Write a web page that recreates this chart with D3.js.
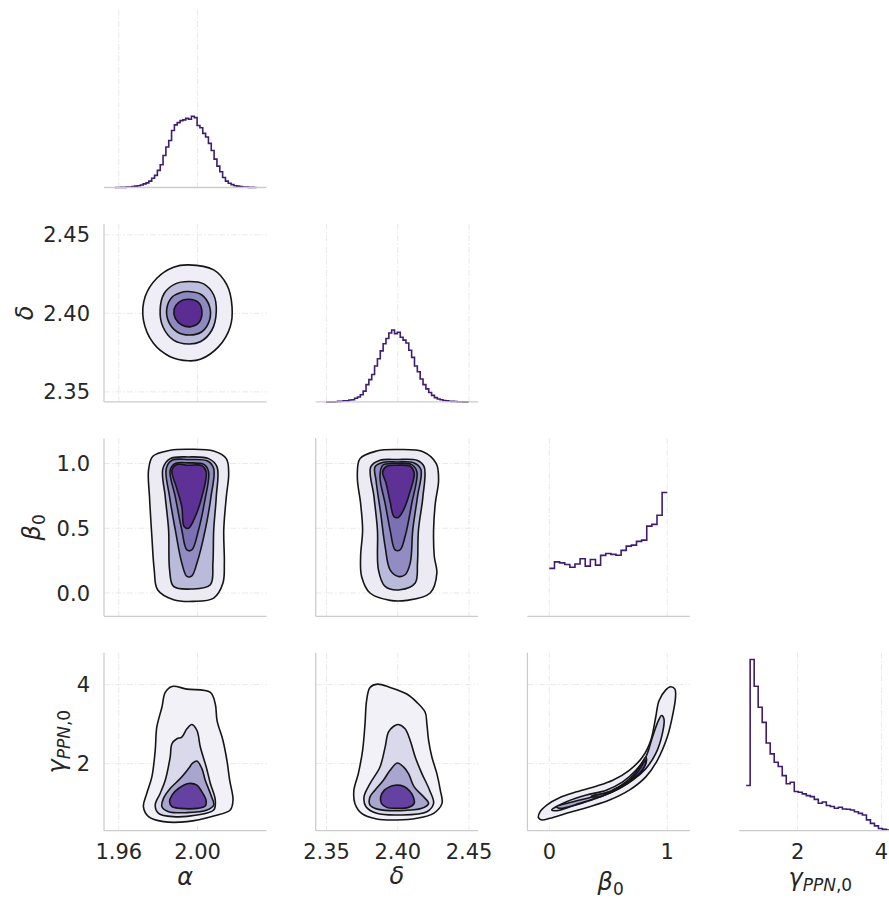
<!DOCTYPE html>
<html>
<head>
<meta charset="utf-8">
<script src="https://cdn.jsdelivr.net/npm/d3@7"></script>
<style>
    body { margin: 0; background: #fff; }
    text { font-family: "DejaVu Sans", sans-serif; fill: #262626; }
    .tick-label { font-size: 21px; }
    .axis-label { font-size: 24px; font-style: italic; }
</style>
</head>
<body>
<svg id="corner" width="889" height="898"></svg>
<script>

/*********************/
/*** DATA          ***/
/*********************/

// histogram counts on the diagonal (range = [first edge, last edge])
var alphaHistRange  = [1.958, 2.030];
var alphaHistCounts = [0, 0, 1, 1, 2, 3, 5, 8, 10, 15, 21, 27, 37, 54, 71, 100, 133, 187, 237, 275,
                       333, 366, 379, 391, 395, 404, 399, 416, 408, 362, 349, 316, 295, 258, 216, 166, 125, 92, 58, 37,
                       25, 17, 10, 8, 5, 3, 2, 1, 1, 0];

var deltaHistRange  = [2.3497, 2.4497];
var deltaHistCounts = [0, 0, 0, 1, 3, 4, 6, 6, 11, 13, 21, 29, 42, 63, 101, 130, 160, 210, 252, 298,
                       340, 370, 403, 420, 399, 407, 378, 361, 344, 302, 260, 210, 176, 134, 101, 76, 55, 38, 25, 17,
                       13, 8, 6, 4, 3, 2, 1, 1, 0, 0];

var betaHistRange  = [0, 1];
var betaHistCounts = [280, 318, 312, 303, 287, 306, 336, 293, 332, 299, 356, 367, 362, 357, 385, 410,
                      416, 438, 445, 527, 537, 590, 723];

var gammaHistRange  = [0.773, 4.215];
var gammaHistCounts = [264, 1000, 844, 721, 633, 512, 449, 400, 375, 322, 274, 283, 229, 225, 215, 205,
                       199, 183, 160, 168, 147, 141, 131, 137, 127, 125, 121, 111, 101, 92, 63, 43, 28, 13, 8, 4];

// KDE contour outlines, outermost level first, as [x, y] in data units
var alphaDeltaLevels = [
    [[1.9954,2.4309],[2.0082,2.4277],[2.0149,2.4181],[2.0175,2.4043],[2.0166,2.3915],[2.0107,2.3788],[2.0014,2.3707],
     [1.9954,2.3698],[1.9861,2.3724],[1.9776,2.3809],[1.9725,2.3958],[1.9734,2.4107],[1.9793,2.4224],[1.9878,2.4294]],
    [[1.9954,2.4203],[2.0031,2.4188],[2.0082,2.4117],[2.0095,2.4011],[2.0073,2.3894],[2.0014,2.3819],[1.9954,2.3805],
     [1.9878,2.3830],[1.9824,2.3915],[1.9810,2.4022],[1.9831,2.4128],[1.9887,2.4188]],
    [[1.9954,2.4139],[2.0022,2.4117],[2.0061,2.4043],[2.0061,2.3958],[2.0022,2.3883],[1.9959,2.3862],[1.9895,2.3883],
     [1.9853,2.3947],[1.9844,2.4032],[1.9870,2.4103],[1.9912,2.4132]],
    [[1.9954,2.4090],[2.0005,2.4069],[2.0022,2.4011],[2.0010,2.3947],[1.9966,2.3915],[1.9920,2.3926],[1.9887,2.3968],
     [1.9881,2.4026],[1.9903,2.4069]]
];

var alphaBetaLevels = [
    [[1.9954,1.110],[2.0082,1.097],[2.0146,1.038],[2.0158,0.923],[2.0146,0.743],[2.0133,0.487],[2.0136,0.231],
     [2.0129,0.077],[2.0082,-0.039],[1.9980,-0.065],[1.9878,-0.052],[1.9797,0.025],[1.9780,0.179],[1.9768,0.436],
     [1.9756,0.743],[1.9751,0.948],[1.9773,1.056],[1.9861,1.102]],
    [[1.9954,1.051],[2.0056,1.038],[2.0099,0.974],[2.0095,0.743],[2.0082,0.487],[2.0078,0.231],[2.0065,0.064],
     [1.9971,0.031],[1.9878,0.051],[1.9858,0.179],[1.9853,0.487],[1.9836,0.743],[1.9824,0.961],[1.9861,1.038]],
    [[1.9954,1.031],[2.0051,1.020],[2.0082,0.961],[2.0068,0.743],[2.0039,0.487],[1.9997,0.231],[1.9971,0.133],
     [1.9946,0.128],[1.9920,0.231],[1.9887,0.487],[1.9858,0.743],[1.9841,0.961],[1.9870,1.025]],
    [[1.9954,1.005],[2.0034,0.992],[2.0056,0.936],[2.0034,0.692],[2.0005,0.487],[1.9971,0.333],[1.9946,0.333],
     [1.9920,0.487],[1.9887,0.743],[1.9861,0.948],[1.9887,1.000]],
    [[1.9954,0.987],[2.0022,0.984],[2.0044,0.936],[2.0022,0.743],[1.9988,0.589],[1.9954,0.500],[1.9932,0.513],
     [1.9920,0.666],[1.9892,0.820],[1.9870,0.948],[1.9895,0.992]]
];

var deltaBetaLevels = [
    [[2.3993,1.108],[2.4181,1.090],[2.4270,1.000],[2.4286,0.871],[2.4263,0.692],[2.4251,0.487],[2.4256,0.282],
     [2.4274,0.154],[2.4227,0.000],[2.4063,-0.057],[2.3946,-0.057],[2.3805,0.000],[2.3746,0.128],[2.3739,0.282],
     [2.3753,0.487],[2.3739,0.692],[2.3716,0.897],[2.3735,1.038],[2.3852,1.097]],
    [[2.3993,1.031],[2.4134,1.025],[2.4185,0.974],[2.4176,0.743],[2.4145,0.487],[2.4138,0.231],[2.4122,0.077],
     [2.4016,0.025],[2.3911,0.051],[2.3864,0.179],[2.3857,0.487],[2.3833,0.743],[2.3810,0.974],[2.3875,1.025]],
    [[2.3993,1.012],[2.4115,1.005],[2.4162,0.954],[2.4138,0.743],[2.4105,0.487],[2.4087,0.231],[2.4051,0.141],
     [2.4004,0.128],[2.3946,0.179],[2.3911,0.359],[2.3880,0.615],[2.3847,0.871],[2.3840,0.974],[2.3899,1.010]],
    [[2.3993,1.000],[2.4098,0.992],[2.4134,0.936],[2.4098,0.692],[2.4051,0.436],[2.4016,0.333],[2.3981,0.333],
     [2.3946,0.487],[2.3911,0.692],[2.3875,0.897],[2.3894,0.987]],
    [[2.3993,0.987],[2.4087,0.979],[2.4115,0.928],[2.4082,0.769],[2.4040,0.641],[2.4004,0.584],[2.3974,0.589],
     [2.3946,0.705],[2.3918,0.846],[2.3894,0.936],[2.3922,0.979]]
];

var alphaGammaLevels = [
    [[1.9870,3.956],[1.9946,3.888],[2.0065,3.804],[2.0090,3.511],[2.0099,3.091],[2.0129,2.587],[2.0149,2.083],
     [2.0163,1.579],[2.0180,1.076],[2.0166,0.824],[2.0082,0.673],[1.9946,0.530],[1.9827,0.530],[1.9751,0.656],
     [1.9725,0.908],[1.9742,1.243],[1.9768,1.663],[1.9785,2.335],[1.9793,2.923],[1.9819,3.427],[1.9836,3.804]],
    [[1.9971,2.990],[1.9997,2.839],[2.0014,2.419],[2.0044,1.915],[2.0065,1.495],[2.0090,1.076],[2.0082,0.824],
     [1.9997,0.698],[1.9878,0.656],[1.9802,0.740],[1.9785,0.950],[1.9810,1.243],[1.9836,1.579],[1.9861,2.167],
     [1.9870,2.503],[1.9895,2.629],[1.9920,2.671],[1.9946,2.881]],
    [[1.9997,2.066],[2.0022,1.873],[2.0039,1.579],[2.0068,1.202],[2.0082,0.950],[2.0048,0.824],[1.9946,0.757],
     [1.9853,0.782],[1.9819,0.908],[1.9827,1.118],[1.9861,1.369],[1.9912,1.621],[1.9954,1.873],[1.9976,2.016]],
    [[1.9954,1.495],[1.9997,1.453],[2.0022,1.285],[2.0043,1.076],[2.0039,0.924],[1.9997,0.866],[1.9912,0.866],
     [1.9870,0.908],[1.9858,1.034],[1.9870,1.202],[1.9903,1.369]]
];

var deltaGammaLevels = [
    [[2.3857,4.014],[2.3946,3.930],[2.4063,3.762],[2.4134,3.552],[2.4192,3.301],[2.4204,3.007],[2.4216,2.587],
     [2.4239,2.167],[2.4274,1.747],[2.4298,1.327],[2.4310,0.992],[2.4251,0.740],[2.4134,0.614],[2.3993,0.572],
     [2.3852,0.597],[2.3746,0.740],[2.3699,0.992],[2.3692,1.327],[2.3723,1.747],[2.3753,2.335],[2.3770,3.007],
     [2.3781,3.594],[2.3805,3.930]],
    [[2.4004,2.990],[2.4051,2.881],[2.4087,2.587],[2.4122,2.167],[2.4169,1.747],[2.4223,1.327],[2.4251,0.992],
     [2.4204,0.782],[2.4016,0.698],[2.3852,0.740],[2.3777,0.908],[2.3763,1.160],[2.3805,1.495],[2.3875,1.915],
     [2.3911,2.419],[2.3934,2.797],[2.3969,2.940]],
    [[2.3997,2.016],[2.4040,1.915],[2.4075,1.747],[2.4115,1.411],[2.4181,1.160],[2.4216,0.992],[2.4169,0.866],
     [2.4016,0.807],[2.3864,0.840],[2.3805,0.950],[2.3805,1.160],[2.3840,1.327],[2.3899,1.579],[2.3946,1.831]],
    [[2.3981,1.453],[2.4040,1.428],[2.4082,1.311],[2.4110,1.143],[2.4115,0.992],[2.4075,0.891],[2.3988,0.866],
     [2.3922,0.891],[2.3885,0.992],[2.3880,1.160],[2.3906,1.327],[2.3941,1.411]]
];

var betaGammaLevels = [
    [[-0.078,0.782],[-0.022,0.950],[0.090,1.143],[0.230,1.285],[0.398,1.428],[0.538,1.579],[0.678,1.831],
     [0.790,2.167],[0.860,2.587],[0.902,3.175],[0.930,3.594],[0.986,3.863],[1.028,3.947],[1.065,3.888],
     [1.070,3.678],[1.048,3.259],[1.000,2.671],[0.916,2.083],[0.818,1.663],[0.678,1.327],[0.510,1.076],
     [0.342,0.908],[0.146,0.740],[0.006,0.614],[-0.064,0.572],[-0.092,0.631]],
    [[0.034,0.866],[0.146,1.034],[0.314,1.202],[0.482,1.327],[0.622,1.537],[0.734,1.831],[0.818,2.167],
     [0.874,2.671],[0.925,3.091],[0.952,3.217],[0.972,3.133],[0.958,2.755],[0.902,2.251],[0.818,1.873],
     [0.706,1.579],[0.538,1.285],[0.370,1.092],[0.202,0.933],[0.062,0.807],[0.020,0.824]],
    [[0.062,0.908],[0.202,1.034],[0.370,1.160],[0.538,1.327],[0.650,1.537],[0.734,1.789],[0.790,2.041],
     [0.818,2.167],[0.824,2.083],[0.796,1.873],[0.720,1.621],[0.594,1.369],[0.426,1.160],[0.258,0.992],[0.090,0.866]],
    [[0.356,1.176],[0.510,1.285],[0.650,1.495],[0.748,1.789],[0.818,2.100],[0.813,1.957],[0.762,1.747],
     [0.664,1.537],[0.538,1.327],[0.426,1.160]]
];

// axis domains and ticks
var colDomains = [[1.9525, 2.035], [2.3424, 2.4564], [-0.186, 1.192], [0.605, 4.48]];
var rowDomains = [null, [2.3436, 2.457], [-0.18, 1.195], [0.30, 4.81]];
var colTicks   = [[1.96, 2.00], [2.35, 2.40, 2.45], [0, 1], [2, 4]];
var rowTicks   = [null, [2.35, 2.40, 2.45], [0, 0.5, 1], [2, 4]];
var colFormats = ['.2f', '.2f', 'd', 'd'];
var rowFormats = [null, '.2f', '.1f', 'd'];

/*********************/
/*** LAYOUT/STYLE  ***/
/*********************/

var svg = d3.select('#corner');

var grid = {left: 104, bottom: 187.5, cell_w: 162.5, cell_h: 178, step_x: 211.7, step_y: 214.4};

var hist_color = '#3f1c72',
    line_color = '#151515',
    spine_color = '#cccccc',
    grid_color = '#e6e6e6';

var fills = {
    alphaDelta: ['#efeef6', '#bdbddc', '#8e8ac0', '#5b2d93'],
    alphaBeta:  ['#ecebf4', '#babadb', '#918dc2', '#7b70b4', '#5d3196'],
    deltaBeta:  ['#ecebf4', '#babadb', '#918dc2', '#7b70b4', '#5d3196'],
    alphaGamma: ['#f2f1f8', '#dad9eb', '#a8a5cf', '#6542a1'],
    deltaGamma: ['#f2f1f8', '#dad9eb', '#a8a5cf', '#6542a1'],
    betaGamma:  ['#efeef6', '#d0cfe7', '#a7a4ce', '#6441a0']
};

var panels = [
    {row: 1, col: 0, levels: alphaDeltaLevels, fill: fills.alphaDelta},
    {row: 2, col: 0, levels: alphaBetaLevels,  fill: fills.alphaBeta},
    {row: 2, col: 1, levels: deltaBetaLevels,  fill: fills.deltaBeta},
    {row: 3, col: 0, levels: alphaGammaLevels, fill: fills.alphaGamma},
    {row: 3, col: 1, levels: deltaGammaLevels, fill: fills.deltaGamma},
    {row: 3, col: 2, levels: betaGammaLevels,  fill: fills.betaGamma}
];

var diags = [
    {idx: 0, range: alphaHistRange, counts: alphaHistCounts},
    {idx: 1, range: deltaHistRange, counts: deltaHistCounts},
    {idx: 2, range: betaHistRange,  counts: betaHistCounts},
    {idx: 3, range: gammaHistRange, counts: gammaHistCounts}
];

/********************************/
/*** HELPERS                  ***/
/********************************/

function col_left(c)  { return grid.left + c * grid.step_x; }
function row_bottom(r){ return grid.bottom + r * grid.step_y; }

function x_scale(c) {
    return d3.scaleLinear().domain(colDomains[c]).range([col_left(c), col_left(c) + grid.cell_w]);
}
function y_scale(r) {
    return d3.scaleLinear().domain(rowDomains[r]).range([row_bottom(r), row_bottom(r) - grid.cell_h]);
}

function draw_grid(g, c, r, with_rows) {
    var x = x_scale(c), top = row_bottom(r) - grid.cell_h, bot = row_bottom(r);
    g.selectAll(null).data(colTicks[c]).enter().append('line')
        .attr('x1', d => x(d)).attr('x2', d => x(d))
        .attr('y1', top).attr('y2', bot)
        .attr('stroke', grid_color).attr('stroke-width', 0.9)
        .attr('stroke-dasharray', '6,2,1.5,2');
    if (with_rows) {
        var y = y_scale(r);
        g.selectAll(null).data(rowTicks[r]).enter().append('line')
            .attr('x1', col_left(c)).attr('x2', col_left(c) + grid.cell_w)
            .attr('y1', d => y(d)).attr('y2', d => y(d))
            .attr('stroke', grid_color).attr('stroke-width', 0.9)
            .attr('stroke-dasharray', '6,2,1.5,2');
    }
}

function draw_spines(g, c, r, with_left) {
    var left = col_left(c), bot = row_bottom(r);
    g.append('line')
        .attr('x1', left).attr('x2', left + grid.cell_w)
        .attr('y1', bot).attr('y2', bot)
        .attr('stroke', spine_color).attr('stroke-width', 1.3);
    if (with_left) {
        g.append('line')
            .attr('x1', left).attr('x2', left)
            .attr('y1', bot - grid.cell_h).attr('y2', bot)
            .attr('stroke', spine_color).attr('stroke-width', 1.3);
    }
}

/********************************/
/*** RENDER                   ***/
/********************************/

// shared y scale for all diagonal histograms
var hist_max = d3.max(diags, d => d3.max(d.counts)) * 1.04;

diags.forEach(function(d) {
    var g = svg.append('g').attr('class', 'diag');
    var x = x_scale(d.idx),
        y = d3.scaleLinear().domain([0, hist_max]).range([row_bottom(d.idx), row_bottom(d.idx) - grid.cell_h]);

    draw_grid(g, d.idx, d.idx, false);

    var w = (d.range[1] - d.range[0]) / d.counts.length;
    var pts = d.counts.map((v, i) => [d.range[0] + i * w, v]);
    pts.push([d.range[1], d.counts[d.counts.length - 1]]);

    g.append('path')
        .attr('d', d3.line().x(p => x(p[0])).y(p => y(p[1])).curve(d3.curveStepAfter)(pts))
        .attr('fill', 'none')
        .attr('stroke', hist_color)
        .attr('stroke-width', 1.6);

    draw_spines(g, d.idx, d.idx, false);
});

panels.forEach(function(p) {
    var g = svg.append('g').attr('class', 'kde');
    var x = x_scale(p.col), y = y_scale(p.row);

    draw_grid(g, p.col, p.row, true);

    var contour = d3.line()
        .x(d => x(d[0])).y(d => y(d[1]))
        .curve(d3.curveCatmullRomClosed.alpha(0.5));

    p.levels.forEach(function(poly, i) {
        g.append('path')
            .attr('d', contour(poly))
            .attr('fill', p.fill[i])
            .attr('stroke', line_color)
            .attr('stroke-width', 1.6)
            .attr('stroke-linejoin', 'round');
    });

    draw_spines(g, p.col, p.row, true);
});

// y tick labels (first column)
[1, 2, 3].forEach(function(r) {
    var y = y_scale(r), fmt = d3.format(rowFormats[r]);
    svg.selectAll(null).data(rowTicks[r]).enter().append('text')
        .attr('class', 'tick-label')
        .attr('x', grid.left - 14)
        .attr('y', d => y(d))
        .attr('dy', '0.36em')
        .attr('text-anchor', 'end')
        .text(d => fmt(d));
});

// x tick labels (bottom row)
[0, 1, 2, 3].forEach(function(c) {
    var x = x_scale(c), fmt = d3.format(colFormats[c]);
    svg.selectAll(null).data(colTicks[c]).enter().append('text')
        .attr('class', 'tick-label')
        .attr('x', d => x(d))
        .attr('y', row_bottom(3) + 28.5)
        .attr('text-anchor', 'middle')
        .text(d => fmt(d));
});

// axis labels
function add_label(x, y, main, sub, rotate) {
    var t = svg.append('text')
        .attr('class', 'axis-label')
        .attr('text-anchor', 'middle')
        .attr('transform', `translate(${x},${y})` + (rotate ? ' rotate(-90)' : ''));
    t.append('tspan').text(main);
    if (sub) {
        sub.forEach(function(s, i) {
            t.append('tspan')
                .attr('dy', i == 0 ? 5 : 0)
                .attr('font-size', '17px')
                .attr('font-style', s.upright ? 'normal' : 'italic')
                .text(s.text);
        });
    }
}

var gamma_sub = [{text: 'PPN'}, {text: ',0', upright: true}],
    beta_sub  = [{text: '0', upright: true}];

add_label((col_left(0) * 2 + grid.cell_w) / 2, 885, 'α');
add_label((col_left(1) * 2 + grid.cell_w) / 2, 884, 'δ');
add_label((col_left(2) * 2 + grid.cell_w) / 2 + 2, 890, 'β', beta_sub);
add_label((col_left(3) * 2 + grid.cell_w) / 2, 886, 'γ', gamma_sub);

add_label(33, row_bottom(1) - grid.cell_h / 2, 'δ', null, true);
add_label(40, row_bottom(2) - grid.cell_h / 2, 'β', beta_sub, true);
add_label(65, row_bottom(3) - grid.cell_h / 2, 'γ', gamma_sub, true);

</script>
</body>
</html>
